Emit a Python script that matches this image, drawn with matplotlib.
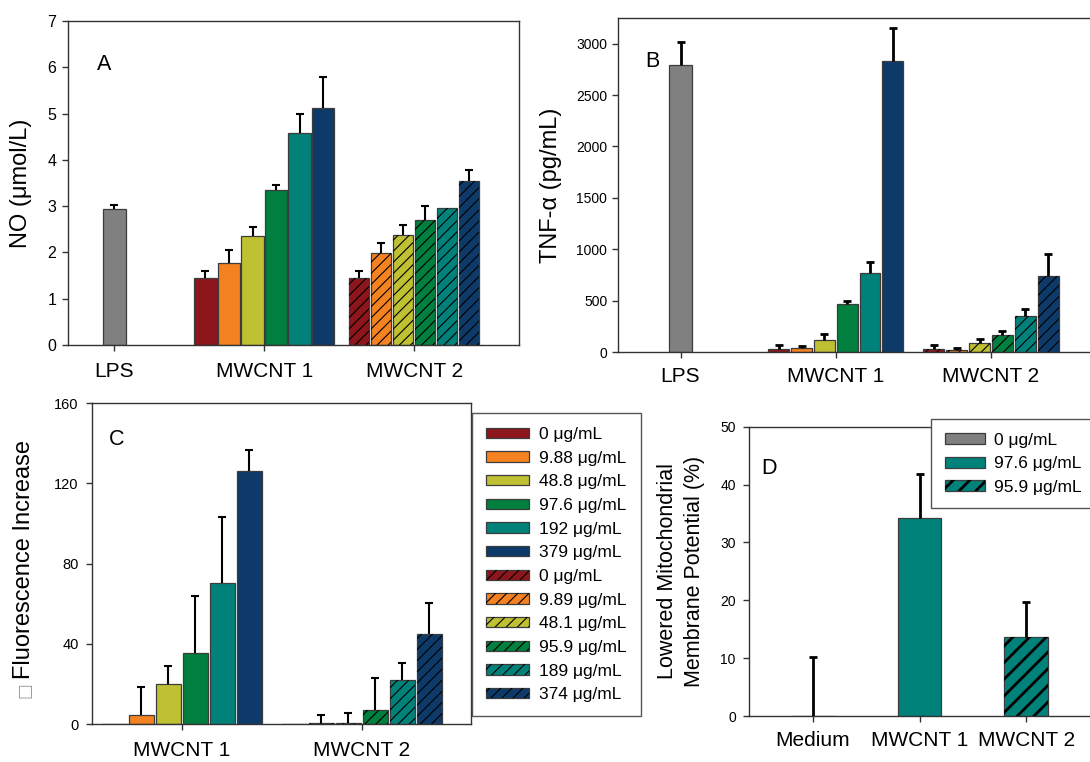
import numpy as np
import matplotlib
matplotlib.use('Agg')
import matplotlib.pyplot as plt
from matplotlib.patches import Patch

plt.rcParams['font.family'] = ['Liberation Sans', 'DejaVu Sans']

W, H, DPI = 1090, 762, 100

# ---------------- data ----------------
groups_AB = ['LPS', 'MWCNT 1', 'MWCNT 2']
conc1_labels = ['0 μg/mL', '9.88 μg/mL', '48.8 μg/mL', '97.6 μg/mL', '192 μg/mL', '379 μg/mL']
conc2_labels = ['0 μg/mL', '9.89 μg/mL', '48.1 μg/mL', '95.9 μg/mL', '189 μg/mL', '374 μg/mL']

# Panel A: NO (umol/L)
no_lps = [2.93]
no_lps_err = [0.09]
no_m1 = [1.45, 1.78, 2.35, 3.35, 4.59, 5.12]
no_m1_err = [0.15, 0.27, 0.21, 0.10, 0.39, 0.66]
no_m2 = [1.45, 1.98, 2.37, 2.70, 2.96, 3.55]
no_m2_err = [0.15, 0.23, 0.23, 0.31, 0.0, 0.23]

# Panel B: TNF-alpha (pg/mL)
tnf_lps = [2789]
tnf_lps_err = [228]
tnf_m1 = [32, 42, 113, 470, 772, 2835]
tnf_m1_err = [33, 13, 62, 30, 101, 321]
tnf_m2 = [32, 23, 91, 165, 347, 743]
tnf_m2_err = [33, 16, 39, 43, 68, 207]

# Panel C: fluorescence increase
groups_C = ['MWCNT 1', 'MWCNT 2']
fl_m1 = [0, 4.5, 20.0, 35.4, 70.5, 126.4]
fl_m1_err = [0, 13.8, 8.8, 28.3, 32.8, 10.3]
fl_m2 = [0, 0.3, 0.3, 7.0, 22.0, 45.0]
fl_m2_err = [0, 4.2, 5.2, 15.8, 8.3, 15.2]

# Panel D: lowered mitochondrial membrane potential (%)
groups_D = ['Medium', 'MWCNT 1', 'MWCNT 2']
mmp = [0.0, 34.2, 13.65]
mmp_err = [10.25, 7.7, 6.1]
mmp_labels = ['0 μg/mL', '97.6 μg/mL', '95.9 μg/mL']

# ---------------- style ----------------
conc_colors = ['#8C161B', '#F58220', '#BFC032', '#007F3E', '#00827B', '#0D3A68']
gray = '#808080'
EDGE = '#3c3c3c'
SPINE = '#333333'
HATCH_THIN = '///'
HATCH_D = '//'

fig = plt.figure(figsize=(W / DPI, H / DPI), dpi=DPI)


def add_ax(l, t, r, b):
    return fig.add_axes([l / W, 1 - b / H, (r - l) / W, (b - t) / H])


def set_hlw(patches, lw):
    for p in patches:
        if hasattr(p, 'set_hatch_linewidth'):
            p.set_hatch_linewidth(lw)


def draw_err(ax, xs, vals, errs, lw, capsize):
    for x, v, e in zip(xs, vals, errs):
        if e > 0:
            _, caps, _ = ax.errorbar([x], [v], yerr=[[0], [e]], fmt='none', ecolor='black',
                                     elinewidth=lw, capsize=capsize, capthick=lw, zorder=4)
            caps[0].set_visible(False)


def draw_bars(ax, center, vals, errs, width, step, colors, hatch=None, hlw=0.8,
              elw=1.5, capsize=3.2):
    n = len(vals)
    xs = center + (np.arange(n) - (n - 1) / 2) * step
    ax.bar(xs, vals, width, color=colors, edgecolor=EDGE, linewidth=0.9, zorder=2)
    if hatch:
        plt.rcParams['hatch.linewidth'] = hlw
        bc = ax.bar(xs, vals, width, facecolor='none', edgecolor='black', linewidth=0,
                    hatch=hatch, zorder=2.5)
        set_hlw(bc, hlw)
    draw_err(ax, xs, vals, errs, elw, capsize)
    return xs


def style_ax(ax, ylabelsize, xpad, ypad):
    for s in ax.spines.values():
        s.set_color(SPINE)
        s.set_linewidth(1.0)
    ax.tick_params(axis='x', length=4, width=1, color=SPINE, pad=xpad, labelsize=15)
    ax.tick_params(axis='y', length=4, width=1, color=SPINE, pad=ypad, labelsize=ylabelsize)


# ---------------- Panel A ----------------
axA = add_ax(68, 21, 519, 345)
draw_bars(axA, 0, no_lps, no_lps_err, 0.155, 0.155, [gray])
draw_bars(axA, 1, no_m1, no_m1_err, 0.152, 0.157, conc_colors)
draw_bars(axA, 2, no_m2, no_m2_err, 0.134, 0.146, conc_colors, hatch=HATCH_THIN)
axA.set_xlim(-0.31, 2.70)
axA.set_ylim(0, 7)
axA.set_xticks(range(3))
axA.set_xticklabels(groups_AB)
axA.set_yticks(range(8))
style_ax(axA, 11.5, 8, 4.3)

# ---------------- Panel B ----------------
axB = add_ax(618, 18, 1100, 352)
draw_bars(axB, 0, tnf_lps, tnf_lps_err, 0.148, 0.148, [gray], elw=2.0)
draw_bars(axB, 1, tnf_m1, tnf_m1_err, 0.135, 0.147, conc_colors, elw=2.0)
draw_bars(axB, 2, tnf_m2, tnf_m2_err, 0.135, 0.147, conc_colors, hatch=HATCH_THIN, elw=2.0)
axB.set_xlim(-0.4026, 2.702)
axB.set_ylim(0, 3250)
axB.set_xticks(range(3))
axB.set_xticklabels(groups_AB)
axB.set_yticks(range(0, 3001, 500))
style_ax(axB, 10, 6.5, 3.7)

# ---------------- Panel C ----------------
axC = add_ax(91.7, 403.3, 470.7, 724)
draw_bars(axC, 0, fl_m1, fl_m1_err, 0.139, 0.15, conc_colors)
draw_bars(axC, 1, fl_m2, fl_m2_err, 0.139, 0.15, conc_colors, hatch=HATCH_THIN)
axC.set_xlim(-0.50, 1.604)
axC.set_ylim(0, 160)
axC.set_xticks(range(2))
axC.set_xticklabels(groups_C)
axC.set_yticks(range(0, 161, 40))
style_ax(axC, 10.5, 8, 5.5)

# legend C (thin hatch)
plt.rcParams['hatch.linewidth'] = 0.8
handles = [Patch(facecolor=c, edgecolor=EDGE, linewidth=0.9) for c in conc_colors]
hatch_handles = []
for c in conc_colors:
    hp = Patch(facecolor='none', edgecolor='black', linewidth=0, hatch=HATCH_THIN)
    set_hlw([hp], 0.8)
    hatch_handles.append((Patch(facecolor=c, edgecolor=EDGE, linewidth=0.9), hp))
legC = fig.legend(handles + hatch_handles, conc1_labels + conc2_labels, loc='upper left',
                  bbox_to_anchor=(472 / W, 1 - 413 / H), bbox_transform=fig.transFigure,
                  borderaxespad=0, fontsize=12.5, handlelength=2.47, handleheight=0.55,
                  handletextpad=0.61, borderpad=0.8, labelspacing=0.5, fancybox=False,
                  framealpha=1, edgecolor='#555555')
legC.get_frame().set_linewidth(1.0)

# ---------------- Panel D ----------------
axD = add_ax(749, 426.7, 1100, 716)
d_colors = [gray, conc_colors[4], conc_colors[4]]
xsD = np.arange(3)
axD.bar(xsD, mmp, 0.41, color=d_colors, edgecolor=EDGE, linewidth=0.9, zorder=2)
plt.rcParams['hatch.linewidth'] = 2.0
hD = axD.bar(xsD[2:], mmp[2:], 0.41, facecolor='none', edgecolor='black', linewidth=0,
             hatch=HATCH_D, zorder=2.5)
set_hlw(hD, 2.0)
draw_err(axD, xsD, mmp, mmp_err, 2.0, 3.2)
axD.set_xlim(-0.597, 2.69)
axD.set_ylim(0, 50)
axD.set_xticks(range(3))
axD.set_xticklabels(groups_D)
axD.set_yticks(range(0, 51, 10))
style_ax(axD, 10, 7, 5.5)

hatchD = Patch(facecolor='none', edgecolor='black', linewidth=0, hatch=HATCH_D)
set_hlw([hatchD], 2.0)
handlesD = [Patch(facecolor=gray, edgecolor=EDGE, linewidth=0.9),
            Patch(facecolor=conc_colors[4], edgecolor=EDGE, linewidth=0.9),
            (Patch(facecolor=conc_colors[4], edgecolor=EDGE, linewidth=0.9), hatchD)]
legD = fig.legend(handlesD, mmp_labels, loc='upper left',
                  bbox_to_anchor=(930.7 / W, 1 - 419 / H), bbox_transform=fig.transFigure,
                  borderaxespad=0, fontsize=12.5, handlelength=2.3, handleheight=0.6,
                  handletextpad=0.56, borderpad=0.8, labelspacing=0.48, fancybox=False,
                  framealpha=1, edgecolor='#555555')
legD.get_frame().set_linewidth(1.0)

# ---------------- labels ----------------
fig.text(21.3 / W, 1 - 183 / H, 'NO (μmol/L)', rotation=90, ha='center', va='center', fontsize=17)
fig.text(551 / W, 1 - 185 / H, 'TNF-α (pg/mL)', rotation=90, ha='center', va='center', fontsize=17)
fig.text(24 / W, 1 - 679 / H, 'Fluorescence Increase', rotation=90, ha='center', va='bottom', fontsize=17)
fig.text(24.5 / W, 1 - 682 / H, '□', rotation=90, ha='center', va='top', fontsize=12,
         color='#999999', family=['DejaVu Sans'])
fig.text(681 / W, 1 - 571 / H, 'Lowered Mitochondrial\nMembrane Potential (%)', rotation=90,
         ha='center', va='center', fontsize=15.5, linespacing=1.4)

for t, x, y in [('A', 97, 70), ('B', 645, 67), ('C', 109, 445), ('D', 761, 474)]:
    fig.text(x / W, 1 - y / H, t, fontsize=15.5, ha='left', va='baseline')

fig.savefig('out.png', dpi=DPI)
